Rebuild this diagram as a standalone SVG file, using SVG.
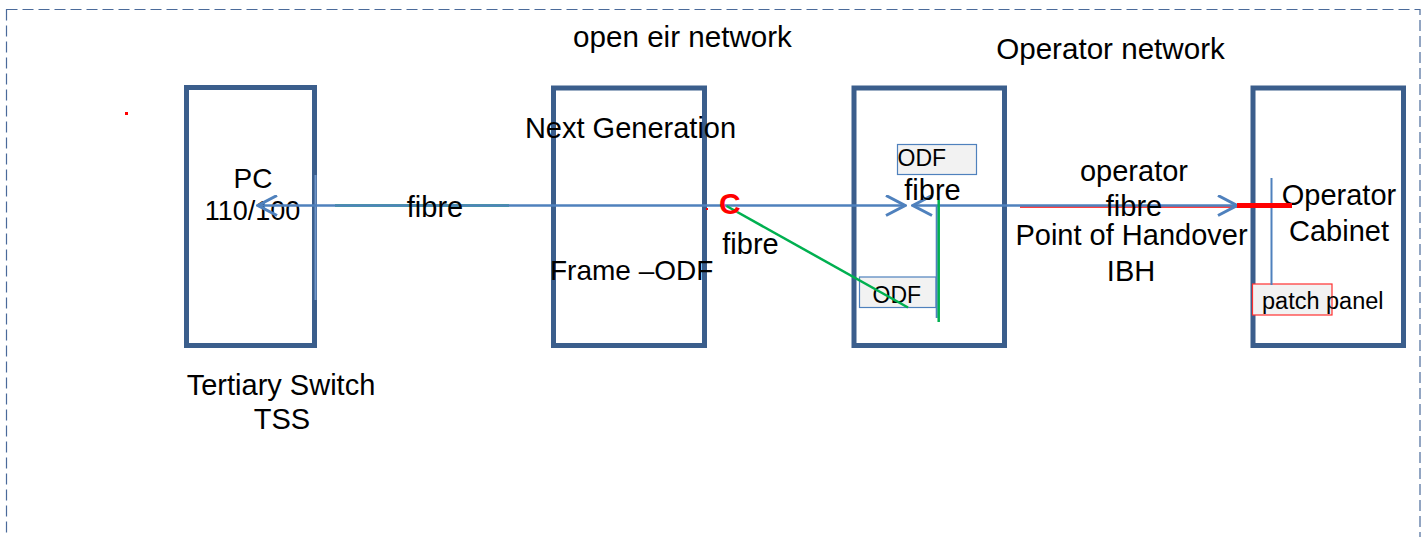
<svg xmlns="http://www.w3.org/2000/svg" width="1427" height="537" viewBox="0 0 1427 537">
<style>
.box{fill:none;stroke:#3b5e8c;stroke-width:5}
.t{font-family:"Liberation Sans",Arial,sans-serif;font-size:29px;fill:#000}
.m{text-anchor:middle}
.sm{font-size:23px}
.conn{stroke:#4f81bd;stroke-width:2.5;fill:none}
.grn{stroke:#00b050;stroke-width:2.5;fill:none}
.odf{fill:#f2f2f2;stroke:#4f81bd;stroke-width:1.2}
</style>
<defs>
<marker id="arr" viewBox="0 0 22 22" markerWidth="22" markerHeight="22" refX="20" refY="11" orient="auto-start-reverse" markerUnits="userSpaceOnUse">
<path d="M1,1 L20,11 L1,21" fill="none" stroke="#4f81bd" stroke-width="3"/>
</marker>
</defs>
<rect x="6.5" y="9.5" width="1413.5" height="600" fill="none" stroke="#4a6a9a" stroke-width="1.2" stroke-dasharray="11,5"/>
<rect x="125" y="112" width="3" height="3" fill="#ff0000"/>
<text class="t m" x="682.5" y="47" style="font-size:29.6px">open eir network</text>
<text class="t m" x="1110.5" y="59" style="font-size:29.6px">Operator network</text>

<g id="node-tss">
<rect class="box" x="186.5" y="87.5" width="128" height="258"/>
<line x1="315.5" y1="175" x2="315.5" y2="300" stroke="#6f95c8" stroke-width="2"/>
<text class="t m" x="253" y="188" style="font-size:28px">PC</text>
<text class="t m" x="252.5" y="220" style="font-size:27px">110/100</text>
<text class="t m" x="281" y="395">Tertiary Switch</text>
<text class="t m" x="282" y="429">TSS</text>
</g>

<g id="node-ngf">
<rect class="box" x="553.5" y="88" width="151" height="257.5"/>
<text class="t m" x="630.5" y="138">Next Generation</text>
<text class="t" x="550" y="280" style="font-size:28px">Frame –ODF</text>
</g>

<g id="node-odf">
<rect class="box" x="854" y="88" width="150.5" height="257.5"/>
<rect class="odf" x="897.5" y="144.5" width="79" height="30"/>
<text class="t sm" x="897.5" y="165.5">ODF</text>
<rect class="odf" x="859.5" y="277" width="76.5" height="30.5"/>
<text class="t sm" x="872.5" y="303">ODF</text>
</g>

<g id="node-cabinet">
<rect class="box" x="1253" y="88" width="150.5" height="257.5"/>
<text class="t m" x="1339" y="205">Operator</text>
<text class="t m" x="1339" y="241">Cabinet</text>
<rect x="1252.5" y="284" width="79.5" height="31" fill="#f2f2f2" stroke="#ff3030" stroke-width="1.2"/>
<text class="t" x="1262" y="309" style="font-size:23.5px">patch panel</text>
<line x1="1271.5" y1="178" x2="1271.5" y2="285" stroke="#4f81bd" stroke-width="2"/>
</g>

<g id="connectors">
<line class="grn" x1="335" y1="205.5" x2="509" y2="205.5"/>
<line class="conn" x1="258" y1="205.5" x2="905" y2="205.5" marker-start="url(#arr)" marker-end="url(#arr)"/>
<line x1="1020" y1="207" x2="1237" y2="207" stroke="#ff0000" stroke-width="1.5"/>
<line class="conn" x1="913" y1="205.5" x2="1237" y2="205.5" marker-start="url(#arr)" marker-end="url(#arr)"/>
<line x1="1237" y1="205.5" x2="1292" y2="205.5" stroke="#ff0000" stroke-width="5"/>
<line class="grn" x1="726.5" y1="206" x2="908" y2="307.5"/>
<line x1="936.7" y1="205" x2="936.7" y2="318" stroke="#4f81bd" stroke-width="2"/>
<line class="grn" x1="938.7" y1="200" x2="938.7" y2="322"/>
<rect x="706" y="208" width="2" height="2" fill="#ff0000"/>
</g>

<g id="labels">
<text class="t m" x="435" y="217">fibre</text>
<text x="719" y="214" style="font-family:'Liberation Sans',Arial,sans-serif;font-size:30px;font-weight:bold;fill:#ff0000">C</text>
<text class="t m" x="750.5" y="254">fibre</text>
<text class="t m" x="932.5" y="200">fibre</text>
<text class="t m" x="1134" y="181">operator</text>
<text class="t m" x="1134" y="216">fibre</text>
<text class="t m" x="1131.5" y="245">Point of Handover</text>
<text class="t m" x="1131" y="281">IBH</text>
</g>
</svg>
